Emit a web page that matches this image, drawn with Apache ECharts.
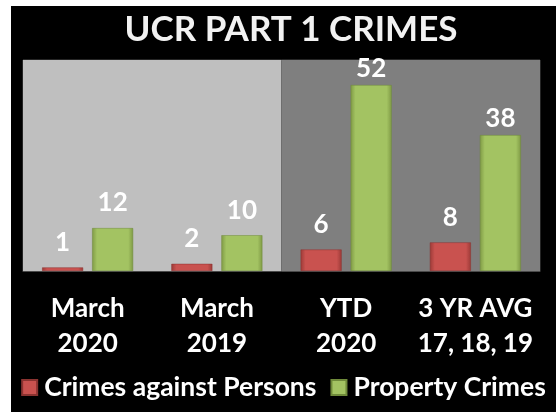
<!DOCTYPE html>
<html>
<head>
<meta charset="utf-8">
<script src="https://cdn.jsdelivr.net/npm/echarts@6/dist/echarts.min.js"></script>
<style>
  html, body { margin: 0; padding: 0; background: #fff; }
  #chart { position: absolute; left: 11px; top: 6px; width: 545px; height: 406px; background: #000; }
</style>
</head>
<body>
<div id="chart"></div>
<script>
// 数据
const categories = ['March\n2020', 'March\n2019', 'YTD\n2020', '3 YR AVG\n17, 18, 19']
const personsCrimes = [1, 2, 6, 8]
const propertyCrimes = [12, 10, 52, 38]

const FONT = 'Lato, "Open Sans", sans-serif'

// 斜面效果的渐变
function bevel(edge, mid) {
  return new echarts.graphic.LinearGradient(0, 0, 1, 0, [
    { offset: 0, color: edge },
    { offset: 0.12, color: mid },
    { offset: 0.88, color: mid },
    { offset: 1, color: edge }
  ])
}

const labelStyle = {
  show: true,
  position: 'top',
  color: '#fff',
  fontFamily: FONT,
  fontWeight: 'bold',
  fontSize: 26
}

const chart = echarts.init(document.getElementById('chart'))
chart.setOption({
  backgroundColor: '#000',
  animation: false,
  title: {
    text: 'UCR PART 1 CRIMES',
    left: 275,
    top: 1,
    textAlign: 'center',
    textStyle: { color: '#f2f2f2', fontFamily: FONT, fontWeight: 'bold', fontSize: 35 }
  },
  legend: {
    bottom: 6,
    left: 'center',
    itemWidth: 15,
    itemHeight: 15,
    itemGap: 14,
    icon: 'rect',
    textStyle: { color: '#fff', fontFamily: FONT, fontWeight: 'bold', fontSize: 26.5, padding: [0, 0, 0, 2] },
    data: ['Crimes against Persons', 'Property Crimes']
  },
  grid: {
    left: 12,
    right: 16,
    top: 54,
    bottom: 141,
    show: true,
    borderColor: '#4a4a4a',
    borderWidth: 1
  },
  xAxis: {
    type: 'category',
    data: categories,
    axisLine: { show: true, lineStyle: { color: '#4a4a4a' } },
    axisTick: { show: false },
    axisLabel: {
      interval: 0,
      color: '#fff',
      fontFamily: FONT,
      fontWeight: 'bold',
      fontSize: 26,
      lineHeight: 35,
      margin: 20
    },
    splitArea: {
      show: true,
      interval: 0,
      areaStyle: { color: ['#bfbfbf', '#bfbfbf', '#7f7f7f', '#7f7f7f'] }
    }
  },
  yAxis: {
    type: 'value',
    min: 0,
    max: 59,
    show: false
  },
  series: [
    {
      name: 'Crimes against Persons',
      type: 'bar',
      data: personsCrimes,
      barWidth: 41,
      barGap: '22%',
      itemStyle: { color: bevel('#9c3a37', '#c9524f'), borderColor: '#8a3330', borderWidth: 0.5 },
      label: Object.assign({}, labelStyle, { distance: 12 })
    },
    {
      name: 'Property Crimes',
      type: 'bar',
      // 高柱子的标签离柱顶更近
      data: propertyCrimes.map((v, i) => ({ value: v, label: { distance: i >= 2 ? 3 : 12 } })),
      barWidth: 41,
      itemStyle: { color: bevel('#7f9a45', '#a3c362'), borderColor: '#6f8a3a', borderWidth: 0.5 },
      label: labelStyle
    }
  ]
})

window.addEventListener('resize', () => chart.resize())
</script>
</body>
</html>
